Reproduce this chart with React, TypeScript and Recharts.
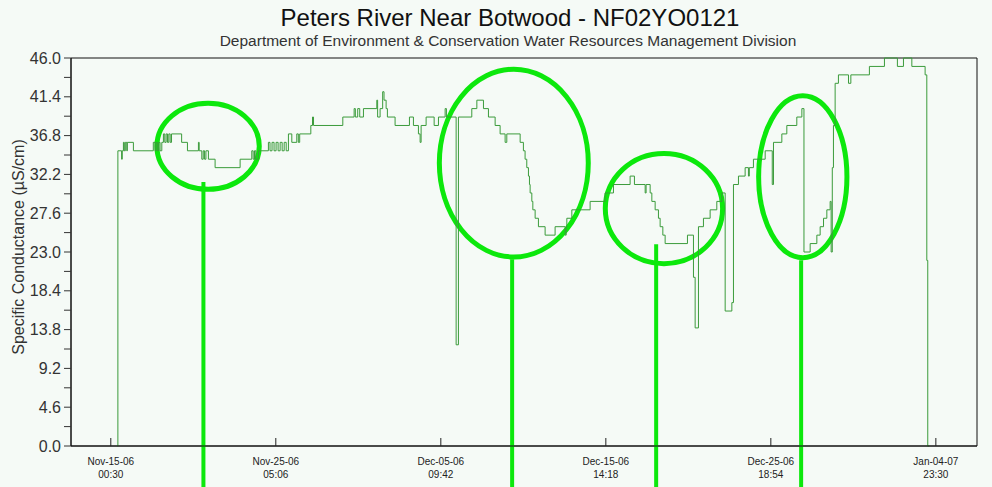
import React from 'react';
import { LineChart, Line, XAxis, YAxis, ReferenceArea, ReferenceLine } from 'recharts';

// hours after Nov-15-06 00:30 and the logged specific conductance (µS/cm)
const hours = [
  10, 10.5, 16, 17, 18.7, 20, 21.5, 23.7, 24.5, 33.5, 63, 65.7, 67, 69, 71, 73, 75.6, 78, 80, 82,
  84, 86, 88, 90, 105, 113.6, 129.9, 131, 134.9, 137, 139, 141, 144.7, 154.6, 191.7, 209, 211, 213, 215, 218.8,
  233.6, 236, 239, 242, 245, 248, 251, 254, 257, 260, 263.3, 268.3, 275.7, 278, 280, 296.5, 299, 300.5, 343.9, 360.7,
  362.5, 366, 369, 374.5, 394.3, 395.5, 399.2, 403, 405, 408.1, 410, 421.4, 442.7, 448.6, 456, 458.5, 460, 467.4, 479.3, 485.7,
  495.6, 497.5, 511.9, 515.3, 535.1, 542.6, 552.4, 559.8, 569.7, 577.1, 584.5, 587, 606.8, 611.6, 614.1, 616.6, 619.1, 620.6, 621.6, 624.1,
  625.6, 629, 633.9, 643.8, 658.6, 673.5, 675, 676, 683.4, 710.5, 732.7, 745.1, 769.8, 776.2, 792.1, 793.5, 799.5, 802, 806.9, 811.8,
  814.3, 818.3, 821.7, 854.8, 863.7, 866.2, 871.1, 878.5, 888.4, 898.3, 905.8, 910.7, 920.6, 923, 930.4, 940.3, 945.2, 946.5, 952.6, 970,
  980.5, 982.3, 994.7, 1002.1, 1016.9, 1024.4, 1027.5, 1036.7, 1046.6, 1051.5, 1056.5, 1061.4, 1066.3, 1067.8, 1069.5, 1071.2, 1073.7, 1078.6, 1093.5, 1097,
  1124.5, 1146.8, 1166, 1175, 1187.4, 1207.1, 1209.6, 1211, 1213,
];
const conductance = [
  0, 35, 34, 35, 36, 35, 36, 35, 36, 35, 36, 35, 36, 35, 36, 35, 36, 37, 36, 37,
  36, 37, 36, 37, 36, 35, 36, 35, 34, 35, 34, 35, 34, 33, 34, 35, 34, 35, 34, 35,
  36, 35, 36, 35, 36, 35, 36, 35, 36, 35, 37, 36, 37, 36, 37, 38, 39, 38, 39, 40,
  39, 40, 39, 40, 41, 39, 40, 42, 41, 40, 39, 38, 39, 38, 37, 36, 38, 39, 38, 39,
  40, 39, 12, 39, 40, 41, 40, 39, 38, 37, 36, 37, 36, 35, 34, 33, 32, 31, 30, 29,
  28, 27, 26, 25, 26, 25, 26, 27, 28, 29, 30, 31, 32, 31, 30, 31, 30, 29, 28, 27,
  26, 25, 24, 25, 20, 14, 26, 27, 28, 29, 30, 16, 17, 31, 32, 33, 32, 33, 34, 35,
  31, 36, 37, 38, 39, 40, 23, 24, 25, 26, 27, 28, 29, 23, 33, 38, 43, 44, 43, 44,
  45, 46, 45, 46, 45, 44, 22, 0, 0,
];

const xTicks = [0, 244.6, 489.2, 733.8, 978.4, 1223];
const tickDates = ['Nov-15-06', 'Nov-25-06', 'Dec-05-06', 'Dec-15-06', 'Dec-25-06', 'Jan-04-07'];
const tickTimes = ['00:30', '05:06', '09:42', '14:18', '18:54', '23:30'];

const yMajor = [0, 4.6, 9.2, 13.8, 18.4, 23.0, 27.6, 32.2, 36.8, 41.4, 46.0];
const yMinor = [2.3, 6.9, 11.5, 16.1, 20.7, 25.3, 29.9, 34.5, 39.1, 43.7];

// circled periods: time span (hours) and value span, plus where the pointer leaves the ring
const rings = [
  { t1: 68.3, t2: 220.1, v1: 30.43, v2: 40.64, pointerT: 137.3, pointerTop: 31.3 },
  { t1: 487.0, t2: 707.8, v1: 22.41, v2: 44.67, pointerT: 594.9, pointerTop: 22.15 },
  { t1: 733.0, t2: 906.9, v1: 21.62, v2: 34.67, pointerT: 808.4, pointerTop: 23.93 },
  { t1: 960.3, t2: 1091.2, v1: 22.33, v2: 41.52, pointerT: 1023.3, pointerTop: 22.03 },
];

const X_DOMAIN: [number, number] = [-59, 1284];
const Y_DOMAIN: [number, number] = [0, 46];
const RING = '#0ce80c';
const FONT = '"Liberation Sans", Arial, sans-serif';

const data = hours.map((t, i) => ({ t, v: conductance[i] }));

const TimeTick = (props: any) => {
  const { x, y, index } = props;
  return (
    <g>
      <line x1={x} x2={x} y1={y} y2={y - 8} stroke="#222" />
      <text x={x} y={y + 19} textAnchor="middle" fontSize={10} fill="#222" fontFamily={FONT}>
        {tickDates[index]}
      </text>
      <text x={x} y={y + 32} textAnchor="middle" fontSize={10} fill="#222" fontFamily={FONT}>
        {tickTimes[index]}
      </text>
    </g>
  );
};

const RingShape = (props: any) => {
  const { x, y, width, height } = props;
  return (
    <ellipse
      cx={x + width / 2}
      cy={y + height / 2}
      rx={width / 2}
      ry={height / 2}
      fill="none"
      stroke={RING}
      strokeWidth={5}
    />
  );
};

const AxisTitle = (props: any) => {
  const vb = props.viewBox;
  const cx = vb.x + 18;
  const cy = vb.y + vb.height / 2 - 5;
  return (
    <text
      x={cx}
      y={cy}
      transform={`rotate(-90 ${cx} ${cy})`}
      textAnchor="middle"
      dominantBaseline="central"
      fontSize={16}
      fill="#333"
      fontFamily={FONT}
    >
      Specific Conductance (µS/cm)
    </text>
  );
};

export default function App() {
  return (
    <div style={{ position: 'relative', width: 992, height: 487, background: '#f5faf6', fontFamily: FONT }}>
      <style>{'body{margin:0;background:#f5faf6}'}</style>
      <div style={{ position: 'absolute', left: 0, width: 1020, top: 4, textAlign: 'center', fontSize: 24, color: '#111' }}>
        Peters River Near Botwood - NF02YO0121
      </div>
      <div style={{ position: 'absolute', left: 0, width: 1016, top: 32, textAlign: 'center', fontSize: 15.5, color: '#333' }}>
        Department of Environment &amp; Conservation Water Resources Management Division
      </div>
      <LineChart width={992} height={487} data={data} margin={{ top: 58, right: 15, bottom: 0, left: 0 }}>
        <XAxis
          dataKey="t"
          type="number"
          domain={X_DOMAIN}
          allowDataOverflow
          ticks={xTicks}
          interval={0}
          tickSize={0}
          tickMargin={0}
          tickLine={false}
          tick={<TimeTick />}
          axisLine={{ stroke: '#111' }}
          height={41}
        />
        <YAxis
          type="number"
          domain={Y_DOMAIN}
          ticks={[...yMajor, ...yMinor].sort((a, b) => a - b)}
          interval={0}
          tickFormatter={(v: number) => (yMajor.includes(v) ? v.toFixed(1) : '')}
          tick={{ fontSize: 16, fill: '#333', fontFamily: FONT }}
          tickSize={7}
          tickMargin={3}
          tickLine={{ stroke: '#333' }}
          axisLine={{ stroke: '#111' }}
          width={71}
          label={{ content: <AxisTitle /> }}
        />
        <ReferenceArea x1={X_DOMAIN[0]} x2={X_DOMAIN[1]} y1={0} y2={46} fill="none" stroke="#111" strokeOpacity={1} />
        <Line
          dataKey="v"
          type="stepAfter"
          stroke="#3b9b3b"
          strokeWidth={1}
          dot={false}
          isAnimationActive={false}
        />
        {rings.map((r, i) => (
          <ReferenceArea key={`ring-${i}`} x1={r.t1} x2={r.t2} y1={r.v1} y2={r.v2} shape={<RingShape />} />
        ))}
        {rings.map((r, i) => (
          <ReferenceLine
            key={`ptr-${i}`}
            segment={[{ x: r.pointerT, y: r.pointerTop }, { x: r.pointerT, y: -5 }]}
            stroke={RING}
            strokeWidth={4}
            ifOverflow="visible"
          />
        ))}
      </LineChart>
    </div>
  );
}
